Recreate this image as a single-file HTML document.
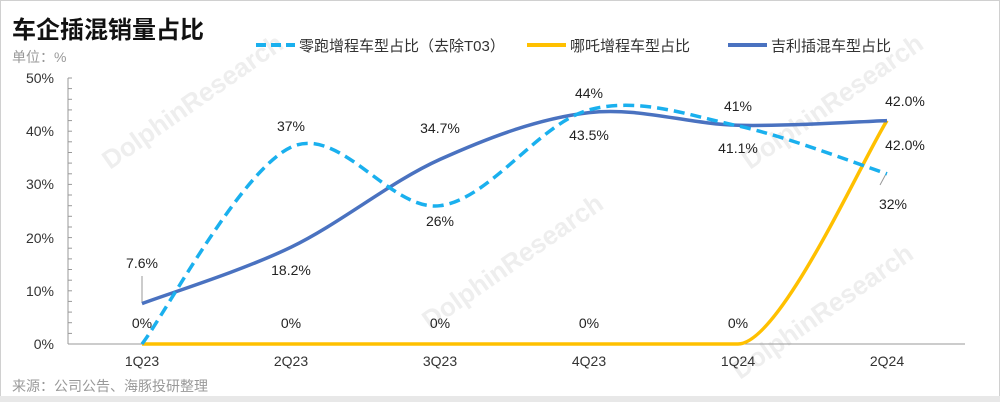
<!DOCTYPE html>
<html><head><meta charset="utf-8"><style>
body{margin:0;background:#fff;}
svg text{font-family:"Liberation Sans","Noto Sans CJK SC",sans-serif;}
</style></head><body>
<svg width="1000" height="402" viewBox="0 0 1000 402" xmlns="http://www.w3.org/2000/svg">
<rect x="0.5" y="0.5" width="999" height="401" fill="#fff" stroke="#d0d0d0"/>
<rect x="0" y="396" width="1000" height="6" fill="#e8e8e8"/>
<g fill="#eeeeee" font-size="26" font-weight="bold">
<text transform="translate(110,170) rotate(-35)">DolphinResearch</text>
<text transform="translate(430,330) rotate(-35)">DolphinResearch</text>
<text transform="translate(750,170) rotate(-35)">DolphinResearch</text>
<text transform="translate(740,380) rotate(-35)">DolphinResearch</text>
</g>
<text x="12" y="38" font-size="24" font-weight="bold" fill="#111">车企插混销量占比</text>
<text x="12" y="62" font-size="14" fill="#999">单位：%</text>
<line x1="256" y1="45" x2="295" y2="45" stroke="#1ab0ee" stroke-width="4" stroke-dasharray="10,5"/>
<text x="299" y="51" font-size="15" fill="#333">零跑增程车型占比（去除T03）</text>
<line x1="527" y1="45" x2="566" y2="45" stroke="#ffc000" stroke-width="4"/>
<text x="570" y="51" font-size="15" fill="#333">哪吒增程车型占比</text>
<line x1="728" y1="45" x2="767" y2="45" stroke="#4a72c0" stroke-width="4"/>
<text x="771" y="51" font-size="15" fill="#333">吉利插混车型占比</text>
<g font-size="14" fill="#333" text-anchor="end">
<text x="54" y="83">50%</text><text x="54" y="136">40%</text><text x="54" y="189">30%</text>
<text x="54" y="243">20%</text><text x="54" y="296">10%</text><text x="54" y="349">0%</text>
</g>
<g stroke="#999" stroke-width="1">
<line x1="68" y1="78" x2="68" y2="344"/>
<line x1="68" y1="344" x2="965" y2="344"/>
<line x1="68" y1="78" x2="72" y2="78"/><line x1="68" y1="88.6" x2="72" y2="88.6"/><line x1="68" y1="99.3" x2="72" y2="99.3"/><line x1="68" y1="109.9" x2="72" y2="109.9"/><line x1="68" y1="120.6" x2="72" y2="120.6"/>
<line x1="68" y1="131.2" x2="72" y2="131.2"/><line x1="68" y1="141.8" x2="72" y2="141.8"/><line x1="68" y1="152.5" x2="72" y2="152.5"/><line x1="68" y1="163.1" x2="72" y2="163.1"/><line x1="68" y1="173.8" x2="72" y2="173.8"/>
<line x1="68" y1="184.4" x2="72" y2="184.4"/><line x1="68" y1="195" x2="72" y2="195"/><line x1="68" y1="205.7" x2="72" y2="205.7"/><line x1="68" y1="216.3" x2="72" y2="216.3"/><line x1="68" y1="227" x2="72" y2="227"/>
<line x1="68" y1="237.6" x2="72" y2="237.6"/><line x1="68" y1="248.2" x2="72" y2="248.2"/><line x1="68" y1="258.9" x2="72" y2="258.9"/><line x1="68" y1="269.5" x2="72" y2="269.5"/><line x1="68" y1="280.2" x2="72" y2="280.2"/>
<line x1="68" y1="290.8" x2="72" y2="290.8"/><line x1="68" y1="301.4" x2="72" y2="301.4"/><line x1="68" y1="312.1" x2="72" y2="312.1"/><line x1="68" y1="322.7" x2="72" y2="322.7"/><line x1="68" y1="333.4" x2="72" y2="333.4"/>
<line x1="142" y1="276" x2="142" y2="303"/>
<line x1="887" y1="172" x2="880" y2="185"/>
</g>
<g font-size="14" fill="#333" text-anchor="middle">
<text x="142" y="366">1Q23</text><text x="291" y="366">2Q23</text><text x="440" y="366">3Q23</text>
<text x="589" y="366">4Q23</text><text x="738" y="366">1Q24</text><text x="887" y="366">2Q24</text>
</g>
<text x="12" y="391" font-size="14" fill="#999">来源：公司公告、海豚投研整理</text>
<path d="M142,344 L738,344 C780,344 862,160 887,120.6" fill="none" stroke="#ffc000" stroke-width="3.5"/>
<path d="M142,303.6 C166.8,294.2 241.3,271.2 291,247.2 C340.7,223.2 390.3,181.8 440,159.4 C489.7,137 539.3,118.3 589,112.6 C638.7,106.9 688.3,124 738,125.3 C787.7,126.6 862.2,121.4 887,120.6" fill="none" stroke="#4a72c0" stroke-width="3.5"/>
<path d="M142,344 C166.8,311.2 241.3,170.3 291,147.2 C340.7,124.2 390.3,211.9 440,205.7 C489.7,199.5 539.3,123.2 589,109.9 C638.7,96.6 688.3,115.3 738,125.9 C787.7,136.6 862.2,165.8 887,173.8" fill="none" stroke="#1ab0ee" stroke-width="3.5" stroke-dasharray="11,6"/>
<g font-size="14" fill="#222" text-anchor="middle">
<text x="142" y="268">7.6%</text><text x="142" y="328">0%</text>
<text x="291" y="131">37%</text><text x="291" y="275">18.2%</text><text x="291" y="328">0%</text>
<text x="440" y="133">34.7%</text><text x="440" y="226">26%</text><text x="440" y="328">0%</text>
<text x="589" y="98">44%</text><text x="589" y="140">43.5%</text><text x="589" y="328">0%</text>
<text x="738" y="111">41%</text><text x="738" y="153">41.1%</text><text x="738" y="328">0%</text>
<text x="905" y="106">42.0%</text><text x="905" y="150">42.0%</text><text x="893" y="209">32%</text>
</g>
</svg>
</body></html>
